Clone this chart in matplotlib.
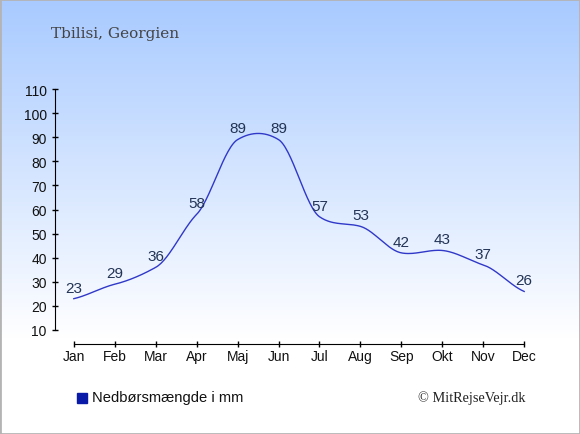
import matplotlib
matplotlib.use("Agg")
import matplotlib.pyplot as plt
import numpy as np

months = ['Jan', 'Feb', 'Mar', 'Apr', 'Maj', 'Jun', 'Jul', 'Aug', 'Sep', 'Okt', 'Nov', 'Dec']
rain = [23, 29, 36, 58, 89, 89, 57, 53, 42, 43, 37, 26]

line_col = '#3038c8'
lab_col = '#223355'


def smooth(y, k=0.65, n=30):
    # cardinal spline through the points, for drawing only
    y = np.asarray(y, float)
    m = np.zeros_like(y)
    m[1:-1] = (y[2:] - y[:-2]) / 2 * k
    m[0] = (y[1] - y[0]) * k
    m[-1] = (y[-1] - y[-2]) * k
    xs, ys = [], []
    for i in range(len(y) - 1):
        t = np.linspace(0, 1, n, endpoint=False)
        h00 = 2*t**3 - 3*t**2 + 1
        h10 = t**3 - 2*t**2 + t
        h01 = -2*t**3 + 3*t**2
        h11 = t**3 - t**2
        xs.append(i + t)
        ys.append(h00*y[i] + h10*m[i] + h01*y[i+1] + h11*m[i+1])
    xs.append([len(y) - 1])
    ys.append([y[-1]])
    return np.concatenate(xs), np.concatenate(ys)


fig = plt.figure(figsize=(5.8, 4.35), dpi=100)

# background gradient, light blue at top fading to white
bg = fig.add_axes([0, 0, 1, 1], zorder=-10)
g = np.linspace(0, 1, 256)
g = np.clip(g / 0.78, 0, 1)
top = np.array([168, 202, 255]) / 255
img = top[None, :] * (1 - g[:, None]) + np.ones(3)[None, :] * g[:, None]
bg.imshow(img[:, None, :], aspect='auto', extent=[0, 1, 0, 1], origin='upper')
bg.set_xlim(0, 1)
bg.set_ylim(0, 1)
bg.axis('off')
bg.add_patch(plt.Rectangle((0, 0), 1, 1, fill=False, ec='#b4b4b4', lw=2,
                           transform=bg.transAxes, clip_on=False))

ax = fig.add_axes([55/580, 104/435, 488/580, 241/435])
ax.patch.set_alpha(0)
x = np.arange(len(months))
sx, sy = smooth(rain)
ax.plot(sx, sy, color=line_col, lw=1)
for xi, v in zip(x, rain):
    ax.annotate(str(v), (xi, v), xytext=(0, 3), textcoords='offset points',
                ha='center', va='bottom', fontsize=11, color=lab_col,
                family='Liberation Sans')

ax.set_xlim(-0.46, 11.46)
ax.set_ylim(10, 110)
ax.set_yticks(range(10, 111, 10))
ax.set_xticks(x)
ax.set_xticklabels(months)
for s in ['top', 'right']:
    ax.spines[s].set_visible(False)
ax.spines['bottom'].set_position(('outward', 10))
ax.spines['bottom'].set_bounds(0, 11)
ax.tick_params(direction='inout', length=5, width=1, labelsize=10,
               labelfontfamily='Liberation Sans', labelcolor='#111111')
ax.tick_params(axis='y', pad=3.5)
ax.tick_params(axis='x', pad=1.5)

fig.text(51/580, 1 - 38/435, 'Tbilisi, Georgien', fontsize=11, color='#444444',
         family='DejaVu Serif', va='baseline')
fig.patches.append(plt.Rectangle((77/580, 1 - 404/435), 10/580, 10/435,
                                 color='#0a1aa8', transform=fig.transFigure))
fig.text(92/580, 1 - 398/435, 'Nedbørsmængde i mm', fontsize=10.6, color='#111111',
         family='Liberation Sans', va='center')
fig.text(526/580, 1 - 398/435, '© MitRejseVejr.dk', fontsize=10.3, color='#222222',
         family='Liberation Serif', va='center', ha='right')

fig.savefig('out.png', dpi=100)
